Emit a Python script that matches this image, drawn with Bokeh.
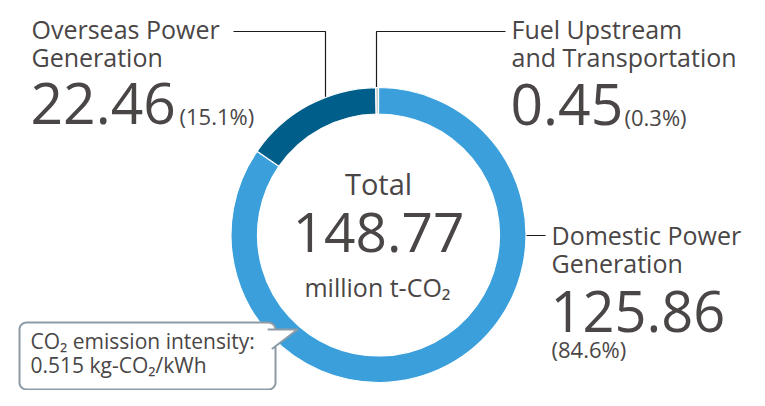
import math
from bokeh.plotting import figure
from bokeh.models import Range1d, ColumnDataSource
from bokeh.core.properties import value
from bokeh.embed import file_html
from bokeh.resources import INLINE

# ---- data ----
categories = ["Domestic Power Generation", "Overseas Power Generation", "Fuel Upstream and Transportation"]
values = [125.86, 22.46, 0.45]
shares = [84.6, 15.1, 0.3]
colors = ["#3a9fda", "#005e8a", "#c4cacf"]
total = 148.77
intensity = 0.515

FONT = "Open Sans"
TXT = "#4a4646"

W, H = 749, 390
def Y(py):
    return H - py

p = figure(width=W, height=H, x_range=Range1d(0, W), y_range=Range1d(0, H),
           output_backend="svg", toolbar_location=None, min_border=0,
           outline_line_color=None, background_fill_color="white")
p.axis.visible = False
p.grid.visible = False

cx, cy = 378, Y(234.5)
r_in, r_out = 121, 147.5

# leader lines (drawn under the ring)
lc = "#1a1a1a"
p.line(x=[233, 325, 325], y=[Y(31), Y(31), Y(100)], line_color=lc, line_width=1.2)
p.line(x=[505, 376, 376], y=[Y(31), Y(31), Y(90)], line_color=lc, line_width=1.2)
p.line(x=[522, 545], y=[Y(235), Y(235)], line_color=lc, line_width=1.2)

# donut
s = sum(values)
starts, ends = [], []
cum = 0.0
for v in values:
    starts.append(math.pi / 2 - 2 * math.pi * cum / s)
    cum += v
    ends.append(math.pi / 2 - 2 * math.pi * cum / s)
src = ColumnDataSource(dict(cat=categories, val=values, start=starts, end=ends, color=colors))
p.annular_wedge(x=cx, y=cy, inner_radius=r_in, outer_radius=r_out, start_angle="start",
                end_angle="end", direction="clock", fill_color="color", line_color="white",
                line_width=1.2, source=src)

def txt(x, y, t, size, align="left", color=TXT):
    off = 0.37 * size + 1.0
    p.text(x=[x], y=[Y(y) + off], text=[t], text_font=value(FONT), text_font_size=f"{size}px",
           text_color=color, text_align=align, text_baseline="alphabetic")

# center
txt(cx, 195, "Total", 29, "center")
txt(cx, 253, f"{total:.2f}", 55, "center")
txt(cx - 1, 297, "million t-CO₂", 25, "center")

# overseas
txt(31, 39, "Overseas Power", 25)
txt(31, 67, "Generation", 25)
txt(30, 125, f"{values[1]:.2f}", 57)
txt(179, 125, f"({shares[1]:.1f}%)", 22)

# fuel
txt(511, 39, "Fuel Upstream", 25)
txt(511, 67, "and Transportation", 25)
txt(510, 126, f"{values[2]:.2f}", 57)
txt(624, 126, f"({shares[2]:.1f}%)", 22)

# domestic
txt(551, 245, "Domestic Power", 25)
txt(551, 273, "Generation", 25)
txt(550, 333, f"{values[0]:.2f}", 56)
txt(551, 358, f"({shares[0]:.1f}%)", 22)

# callout box with pointer
bx0, bx1, by0, by1, rr = 19, 275, 322, 389, 7
pts = []
def arc(xc, yc, a0, a1, n=8):
    for i in range(n + 1):
        a = math.radians(a0 + (a1 - a0) * i / n)
        pts.append((xc + rr * math.cos(a), yc + rr * math.sin(a)))
arc(bx0 + rr, by0 + rr, 180, 270)
arc(bx1 - rr, by0 + rr, 270, 360, 4)
pts.append((268, 329))
pts.append((297, 329))
pts.append((272, 348))
pts.append((bx1, 346))
arc(bx1 - rr, by1 - rr, 0, 90)
arc(bx0 + rr, by1 - rr, 90, 180)
p.patch(x=[q[0] for q in pts], y=[Y(q[1]) for q in pts], fill_color="white",
        line_color="#8c9ba6", line_width=2, line_join="round")

txt(30, 349, "CO₂ emission intensity:", 21)
txt(30, 373, f"{intensity:.3f} kg-CO₂/kWh", 21)

open("out.html", "w").write(file_html(p, INLINE))
